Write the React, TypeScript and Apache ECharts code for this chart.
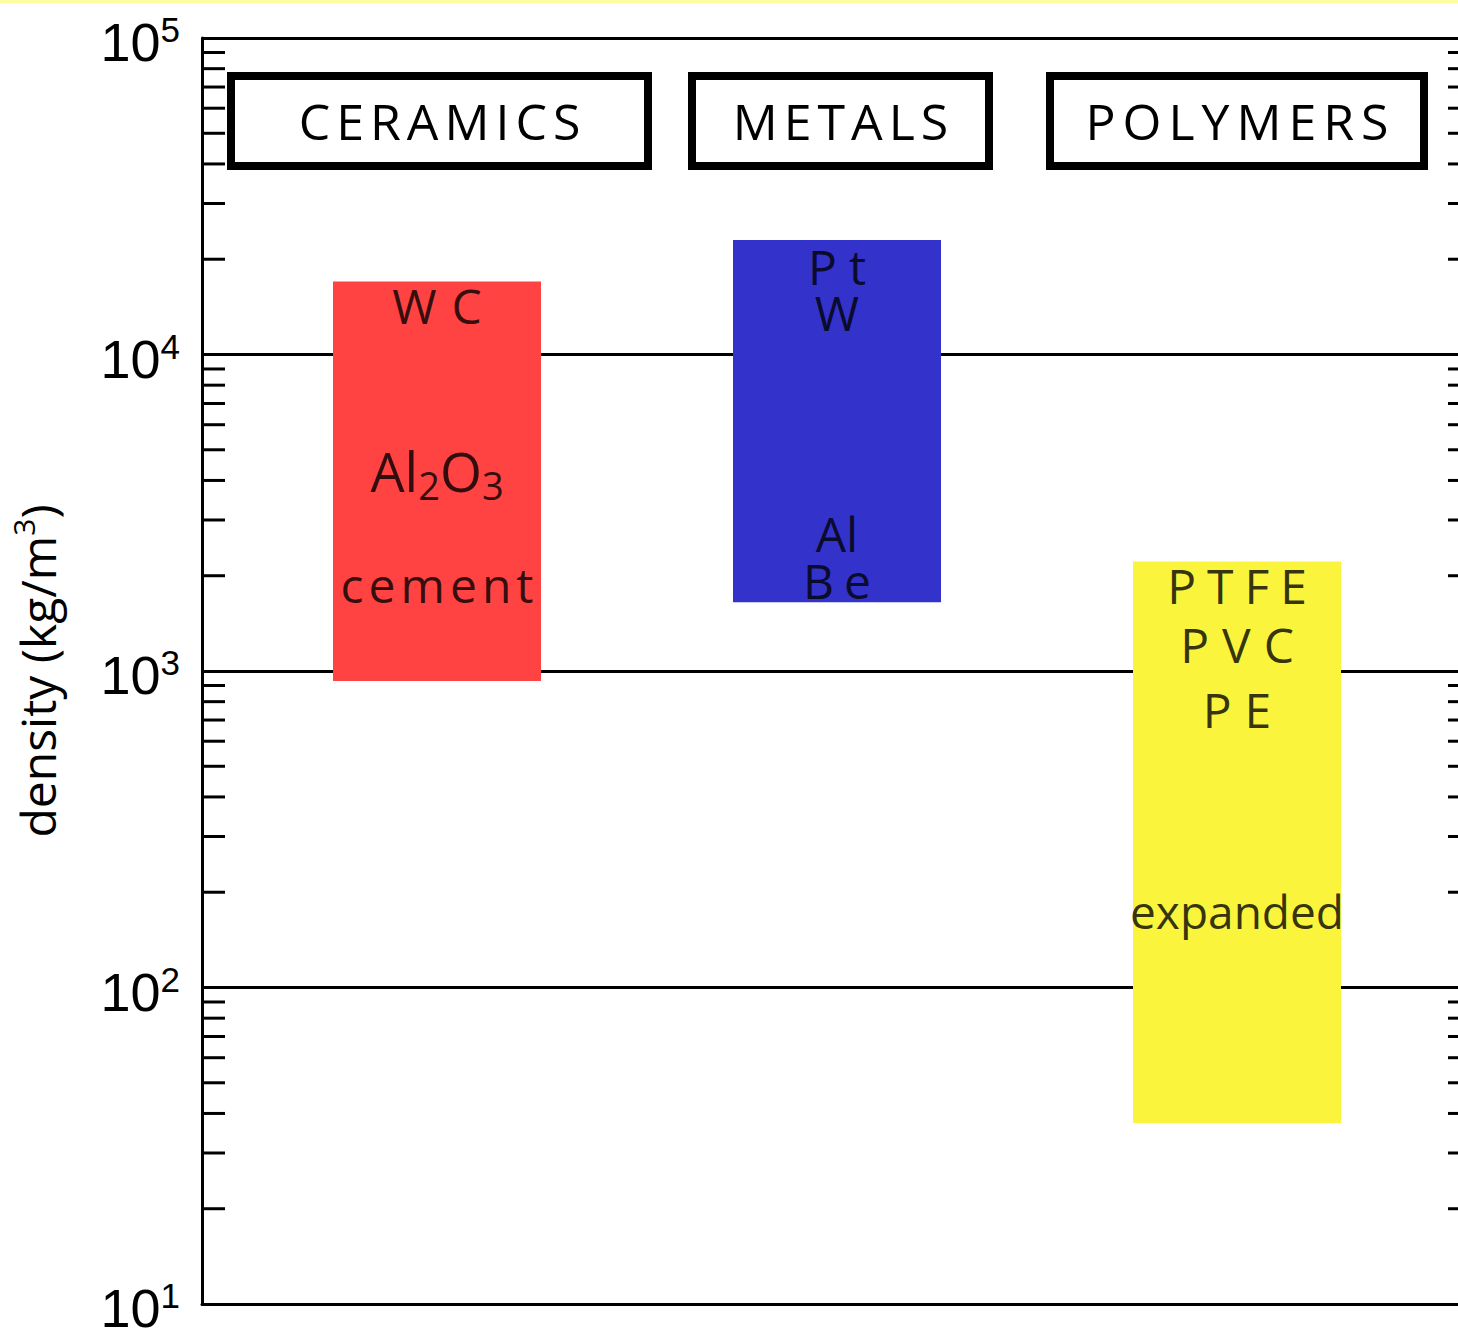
import React, { useEffect, useRef } from 'react';
import * as echarts from 'echarts';

// ---- data ----
const categories = ['CERAMICS', 'METALS', 'POLYMERS'];
const categoryPositions = [1, 2, 3];
const rangeLow = [930, 1650, 37.3];
const rangeHigh = [17000, 23000, 2220];
const barColors = ['#FF4242', '#3333CC', '#FAF53C'];

const materialNames = ['WC', 'Al2O3', 'cement', 'Pt', 'W', 'Al', 'Be', 'PTFE', 'PVC', 'PE', 'expanded'];
const materialCategory = [0, 0, 0, 1, 1, 1, 1, 2, 2, 2, 2];
const materialDensity = [14300, 4300, 1880, 18900, 13600, 2720, 1930, 1860, 1216, 757, 174];

const yMin = 10;
const yMax = 100000;
const minorTickValues = [
  20, 30, 40, 50, 60, 70, 80, 90,
  200, 300, 400, 500, 600, 700, 800, 900,
  2000, 3000, 4000, 5000, 6000, 7000, 8000, 9000,
  20000, 30000, 40000, 50000, 60000, 70000, 80000, 90000,
];

const letterSpacing: Record<string, number> = {
  CERAMICS: 6, METALS: 6, POLYMERS: 7,
  WC: 15, Pt: 12, Be: 10, PTFE: 11, PVC: 13, PE: 13, cement: 5,
};

const headerBoxes = [
  { x: 231, w: 417 },
  { x: 692, w: 297 },
  { x: 1050, w: 374 },
];

function applySpacing(root: HTMLElement) {
  root.querySelectorAll('text').forEach((t) => {
    const s = letterSpacing[(t.textContent || '').trim()];
    if (s) {
      t.setAttribute('letter-spacing', String(s));
      t.setAttribute('dx', String(s / 2));
    }
  });
}

export default function App() {
  const ref = useRef<HTMLDivElement>(null);

  useEffect(() => {
    if (!ref.current) return;
    const chart = echarts.init(ref.current, null, { renderer: 'svg' });
    const gridLeft = 202;
    const gridTop = 38;
    const gridWidth = 1269;
    const gridHeight = 1270;

    const option: any = {
      animation: false,
      backgroundColor: '#fff',
      grid: { left: gridLeft, top: gridTop, width: gridWidth, height: gridHeight },
      xAxis: {
        type: 'value',
        min: 0.4125,
        max: 3.585,
        axisLine: { show: true, lineStyle: { color: '#000', width: 3 } },
        axisTick: { show: false },
        axisLabel: { show: false },
        splitLine: { show: false },
      },
      yAxis: {
        type: 'log',
        logBase: 10,
        min: yMin,
        max: yMax,
        axisLine: { show: true, lineStyle: { color: '#000', width: 3 } },
        axisTick: { show: false },
        splitLine: { show: true, lineStyle: { color: '#000', width: 3 } },
        axisLabel: {
          margin: 22,
          padding: [8, 0, 0, 0],
          formatter: (v: number) => `{b|10}{s|${Math.round(Math.log10(v))}}`,
          rich: {
            b: { fontFamily: 'Liberation Sans', fontSize: 54, lineHeight: 60, color: '#000' },
            s: { fontFamily: 'Liberation Sans', fontSize: 35, lineHeight: 20, verticalAlign: 'top', color: '#000' },
          },
        },
        name: '{a|density (kg/m}{b|3}{a|)}',
        nameLocation: 'middle',
        nameRotate: 90,
        nameGap: 136,
        nameTextStyle: {
          rich: {
            a: { fontFamily: 'Open Sans', fontSize: 48, lineHeight: 58, color: '#000' },
            b: { fontFamily: 'Open Sans', fontSize: 30, lineHeight: 28, verticalAlign: 'top', color: '#000' },
          },
        },
      },
      graphic: [
        { type: 'rect', silent: true, shape: { x: 0, y: 0, width: 1500, height: 3 }, style: { fill: '#FEFEA0' } },
        ...categories.map((c, i) => ({
          type: 'group',
          silent: true,
          children: [
            {
              type: 'rect',
              shape: { x: headerBoxes[i].x, y: 76, width: headerBoxes[i].w, height: 90 },
              style: { fill: '#fff', stroke: '#000', lineWidth: 8 },
            },
            {
              type: 'text',
              x: headerBoxes[i].x + headerBoxes[i].w / 2,
              y: 121,
              style: {
                text: c,
                fill: '#000',
                fontFamily: 'Open Sans',
                fontSize: 50,
                align: 'center',
                verticalAlign: 'middle',
              },
            },
          ],
        })),
      ],
      series: [
        {
          type: 'custom',
          silent: true,
          z: 3,
          data: categories.map((c, i) => [categoryPositions[i], rangeLow[i], rangeHigh[i]]),
          encode: { x: 0, y: [1, 2] },
          renderItem: (params: any, api: any) => {
            const x = api.value(0);
            const lo = api.value(1);
            const hi = api.value(2);
            const tl = api.coord([x - 0.26, hi]);
            const br = api.coord([x + 0.26, lo]);
            return {
              type: 'rect',
              shape: { x: tl[0], y: tl[1], width: br[0] - tl[0], height: br[1] - tl[1] },
              style: { fill: barColors[params.dataIndex] },
            };
          },
        },
        {
          type: 'custom',
          silent: true,
          z: 4,
          data: minorTickValues.map((v) => [categoryPositions[0], v]),
          encode: { x: 0, y: 1 },
          clip: false,
          renderItem: (params: any, api: any) => {
            const y = api.coord([api.value(0), api.value(1)])[1];
            const cs = params.coordSys;
            return {
              type: 'group',
              children: [
                { type: 'line', shape: { x1: cs.x, y1: y, x2: cs.x + 23, y2: y }, style: { stroke: '#000', lineWidth: 3 } },
                { type: 'line', shape: { x1: cs.x + cs.width - 23, y1: y, x2: cs.x + cs.width, y2: y }, style: { stroke: '#000', lineWidth: 3 } },
              ],
            };
          },
        },
        {
          type: 'scatter',
          silent: true,
          z: 5,
          symbolSize: 1,
          itemStyle: { color: 'rgba(0,0,0,0)' },
          data: materialNames.map((n, i) => ({
            name: n,
            value: [categoryPositions[materialCategory[i]], materialDensity[i]],
          })),
          label: {
            show: true,
            position: 'inside',
            color: '#000',
            fontFamily: 'Open Sans',
            fontSize: 48,
            lineHeight: 44,
            formatter: (p: any) =>
              p.name === 'Al2O3' ? '{m|Al}{s|2}{m|O}{s|3}' : p.name === 'expanded' ? '{e|expanded}' : p.name,
            rich: {
              m: { fontFamily: 'Open Sans', fontSize: 54, lineHeight: 66, color: '#000' },
              s: { fontFamily: 'Open Sans', fontSize: 38, lineHeight: 38, verticalAlign: 'bottom', color: '#000' },
              e: { fontFamily: 'Open Sans', fontSize: 46, lineHeight: 44, color: '#000' },
            },
          },
        },
      ],
    };

    chart.setOption(option);
    const el = ref.current;
    applySpacing(el);
    const onFinished = () => applySpacing(el);
    chart.on('finished', onFinished);
    return () => {
      chart.off('finished', onFinished);
      chart.dispose();
    };
  }, []);

  return (
    <div
      style={{
        position: 'fixed',
        left: 0,
        top: 0,
        width: 1458,
        height: 1335,
        overflow: 'hidden',
        background: '#fff',
      }}
    >
      <div ref={ref} style={{ width: 1490, height: 1335 }} />
    </div>
  );
}
